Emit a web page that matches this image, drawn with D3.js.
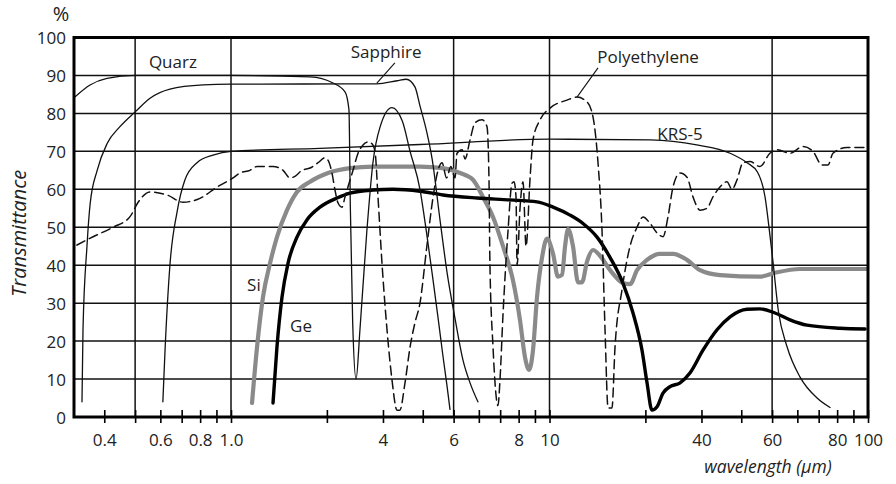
<!DOCTYPE html>
<html>
<head>
<meta charset="utf-8">
<script src="https://cdn.jsdelivr.net/npm/d3@7"></script>
<style>
  html, body { margin: 0; padding: 0; background: #fff; }
  svg text { font-family: "Open Sans", "Noto Sans", sans-serif; fill: #222; }
</style>
</head>
<body>
<svg id="chart" width="896" height="484"></svg>
<script>
// ---------- data (wavelength in µm, transmittance in %) ----------
const quarz = [[0.324,84.4],[0.361,87.5],[0.408,89.2],[0.5,90],[1.0,90],[1.77,89.6],[2.09,88],[2.28,85.7],[2.346,81],[2.37,55],[2.41,25],[2.47,10],[2.54,23],[2.67,49],[2.79,67],[2.94,76.5],[3.2,81.5],[3.45,78],[3.65,70],[3.92,60],[4.12,48],[4.31,36],[4.47,26],[4.63,16],[4.77,8],[4.87,2]];
const sapphire = [[0.3405,4],[0.343,23],[0.353,45],[0.361,56],[0.38,65],[0.408,72],[0.448,76.5],[0.5,80.4],[0.557,84],[0.643,86.4],[0.817,87.5],[1.0,87.7],[2.87,87.8],[3.32,88.6],[3.55,89],[3.78,87],[3.92,82],[4.12,75],[4.28,68],[4.53,52],[4.77,38],[5.05,26],[5.35,15],[5.63,9],[5.96,4]];
const krs5 = [[0.611,4],[0.621,18],[0.643,40],[0.677,54],[0.717,62.5],[0.782,67],[0.878,69],[1.0,70],[1.9,70.8],[3.92,71.8],[10,73.2],[20.7,73],[29,71.7],[36.9,69.5],[41.7,67],[45,64.5],[47.5,58],[49.2,48],[50.3,41],[52.3,28],[55.7,18.5],[61.2,10.5],[69.2,5],[76,2.5]];
const polyethylene = [[0.328,45.3],[0.369,47.5],[0.426,50],[0.482,52.8],[0.511,56.6],[0.557,59.3],[0.63,58.5],[0.707,56.6],[0.799,57.6],[0.904,60.6],[1.015,63],[1.067,64.3],[1.147,65],[1.207,66],[1.355,66],[1.457,65],[1.532,63],[1.588,63.4],[1.671,65],[1.771,65.6],[1.876,67],[1.973,68.3],[2.016,67.7],[2.075,64.3],[2.121,59.8],[2.168,56.4],[2.232,55.3],[2.28,58],[2.329,60.6],[2.416,65],[2.505,69.5],[2.597,71.7],[2.7,72.5],[2.771,72],[2.832,70],[2.894,58],[2.979,40.5],[3.089,23],[3.203,9.7],[3.32,1.8],[3.39,1.8],[3.518,9],[3.65,18.5],[3.78,24.8],[3.92,30],[4.12,45],[4.31,58],[4.467,65],[4.6,67],[4.75,63],[4.9,66],[5.05,63],[5.125,69.5],[5.313,70.4],[5.43,68],[5.63,73],[5.835,77.5],[6.14,78.3],[6.365,76.5],[6.457,62.5],[6.5,40.5],[6.647,18.5],[6.891,3],[6.99,9.7],[7.145,27],[7.408,49],[7.626,61.6],[7.737,62],[7.85,58],[7.91,40],[8.08,55],[8.257,62],[8.44,45],[8.69,63],[8.875,73],[9.34,78.3],[10.04,81.4],[11.35,83.5],[12.2,84.3],[13.12,83],[13.7,79],[14.2,67],[14.62,49],[14.94,23],[15.27,2.4],[15.71,2.4],[16.06,18.5],[16.89,33.5],[17.9,45],[18.83,50],[19.67,52.7],[20.7,51],[21.76,48.5],[22.72,47.5],[23.55,52.7],[24.42,60.6],[25.7,64.3],[27.02,63.2],[28.22,58],[29.7,54.5],[31.23,55],[32.6,58],[34.3,60.6],[36.08,62],[37.4,60],[38.8,62.5],[40.5,67],[42.6,67.3],[45.8,66],[49.2,69.5],[51.8,70.4],[56.9,69.5],[62.5,71.3],[67.2,70],[71.7,66.4],[74.9,66.4],[77.6,69.5],[85.9,71],[99,71]];
const si = [[1.164,3.7],[1.207,18.4],[1.26,31.6],[1.326,40.5],[1.394,47.4],[1.499,54.5],[1.611,59.3],[1.771,62],[2.016,64.3],[2.364,65.6],[2.79,66],[3.92,66],[4.63,65.6],[5.24,64.3],[5.751,62.5],[6.18,58],[6.647,52.7],[7.145,45],[7.68,36],[8.08,25.5],[8.375,15.8],[8.622,12.4],[8.875,17.6],[9.137,31.6],[9.474,42],[9.82,47],[10.26,43],[10.63,37],[10.95,37.5],[11.19,45],[11.44,49.5],[11.85,45],[12.29,35.5],[12.65,35.5],[13.12,41],[13.7,44],[14.4,42.5],[15.5,38.7],[17.0,35.3],[17.9,35],[18.83,38.7],[20.24,41.4],[22.2,43],[24.42,43],[27.02,41.4],[29.7,38.7],[34.3,37.4],[45.8,37],[51.05,38],[61.2,39],[99,39]];
const ge = [[1.355,3.7],[1.394,18.4],[1.446,31.6],[1.51,40.5],[1.611,47.4],[1.733,52],[1.903,55.3],[2.152,57.7],[2.364,59],[2.79,59.8],[3.227,60],[3.92,59.5],[4.63,58.5],[5.92,57.7],[7.52,57.2],[9.137,56.7],[10.26,55.3],[11.6,53.2],[12.74,51],[14.1,47.4],[15.5,42],[17.0,35.3],[18.29,27.4],[19.52,17.6],[20.24,9],[20.98,1.8],[21.76,2.7],[22.72,6.3],[23.9,8],[25.7,9],[27.6,11.6],[30.33,17.6],[33.57,23],[36.9,26.4],[41.7,28.4],[45.8,28.5],[51.05,27.4],[56.9,25.6],[64.3,24.2],[81.7,23.4],[97.9,23.2]];

const xTickValues = [0.4,0.5,0.6,0.7,0.8,0.9,1,2,3,4,5,6,7,8,9,10,20,30,40,50,60,70,80,90,100];
const xTickLabels = ["0.4","","0.6","","0.8","","1.0","","4","","6","","","8","","10","","40","","60","","","80","","100"];
const xGridValues = [0.5,1,5,10,50];
const yTickValues = [0,10,20,30,40,50,60,70,80,90,100];

const seriesLabels = [
  {text:"Quarz", w:0.657, t:93.5},
  {text:"Sapphire", w:3.07, t:96.2},
  {text:"Polyethylene", w:20.4, t:94.9},
  {text:"KRS-5", w:25.7, t:74.6},
  {text:"Si", w:1.18, t:34.8},
  {text:"Ge", w:1.659, t:24}
];
const leaders = [
  [[3.27,93.3],[2.87,88]],
  [[14.2,92],[12.2,84.3]]
];

// ---------- chart ----------
const svg = d3.select("#chart");
const x = d3.scaleLog().domain([0.3214, 100]).range([74, 868]);
const y = d3.scaleLinear().domain([0, 100]).range([417, 37.5]);

// grid
const grid = svg.append("g");
grid.selectAll("line.h").data(yTickValues.filter(v => v > 0 && v < 100)).join("line")
  .attr("x1", x.range()[0]).attr("x2", x.range()[1])
  .attr("y1", d => y(d)).attr("y2", d => y(d))
  .attr("stroke", "#111").attr("stroke-width", 1.5);
grid.selectAll("line.v").data(xGridValues).join("line")
  .attr("x1", d => x(d)).attr("x2", d => x(d))
  .attr("y1", y(0)).attr("y2", y(100))
  .attr("stroke", "#111").attr("stroke-width", 1.5);

// curves
const line = d3.line().x(d => x(d[0])).y(d => y(d[1])).curve(d3.curveMonotoneX);
const curves = [
  {data: si, stroke: "#8a8a8a", width: 4.2, dash: null},
  {data: ge, stroke: "#000", width: 3.4, dash: null},
  {data: quarz, stroke: "#111", width: 1.3, dash: null},
  {data: sapphire, stroke: "#111", width: 1.3, dash: null},
  {data: krs5, stroke: "#111", width: 1.3, dash: null},
  {data: polyethylene, stroke: "#111", width: 1.5, dash: "9,5"}
];
svg.append("g").selectAll("path").data(curves).join("path")
  .attr("d", d => line(d.data))
  .attr("fill", "none")
  .attr("stroke", d => d.stroke)
  .attr("stroke-width", d => d.width)
  .attr("stroke-dasharray", d => d.dash)
  .attr("stroke-linejoin", "round")
  .attr("stroke-linecap", "round");

// frame
svg.append("rect")
  .attr("x", x.range()[0]).attr("y", y(100))
  .attr("width", x.range()[1] - x.range()[0]).attr("height", y(0) - y(100))
  .attr("fill", "none").attr("stroke", "#000").attr("stroke-width", 3);

// x axis
const xAxis = d3.axisBottom(x).tickValues(xTickValues)
  .tickFormat((d, i) => xTickLabels[i]).tickSizeInner(6).tickSizeOuter(0).tickPadding(11);
const gx = svg.append("g").attr("transform", `translate(0,${y(0)})`).call(xAxis);
gx.select(".domain").remove();
gx.selectAll(".tick line").attr("y1", -7).attr("y2", 6).attr("stroke", "#000").attr("stroke-width", 1.6);
gx.selectAll(".tick text").attr("font-size", 17).attr("font-family", "Open Sans").attr("fill", "#222");

// y axis
const yAxis = d3.axisLeft(y).tickValues(yTickValues).tickSize(0).tickPadding(8);
const gy = svg.append("g").attr("transform", `translate(${x.range()[0]},0)`).call(yAxis);
gy.select(".domain").remove();
gy.selectAll(".tick text").attr("font-size", 17).attr("font-family", "Open Sans").attr("fill", "#222").attr("dy", "0.38em");

// axis titles
svg.append("text").attr("x", 61).attr("y", 21).attr("text-anchor", "middle")
  .attr("font-size", 20).text("%");
svg.append("text").attr("transform", `translate(26,${(y(0)+y(100))/2 + 6}) rotate(-90)`)
  .attr("text-anchor", "middle").attr("font-size", 20).attr("font-style", "italic").text("Transmittance");
svg.append("text").attr("x", 768).attr("y", 473).attr("text-anchor", "middle")
  .attr("font-size", 17.5).attr("font-style", "italic").text("wavelength (\u03bcm)");

// series labels
svg.append("g").selectAll("text").data(seriesLabels).join("text")
  .attr("x", d => x(d.w)).attr("y", d => y(d.t))
  .attr("text-anchor", "middle").attr("dy", "0.35em")
  .attr("font-size", 17).text(d => d.text);
svg.append("g").selectAll("line").data(leaders).join("line")
  .attr("x1", d => x(d[0][0])).attr("y1", d => y(d[0][1]))
  .attr("x2", d => x(d[1][0])).attr("y2", d => y(d[1][1]))
  .attr("stroke", "#111").attr("stroke-width", 1.1);
</script>
</body>
</html>
